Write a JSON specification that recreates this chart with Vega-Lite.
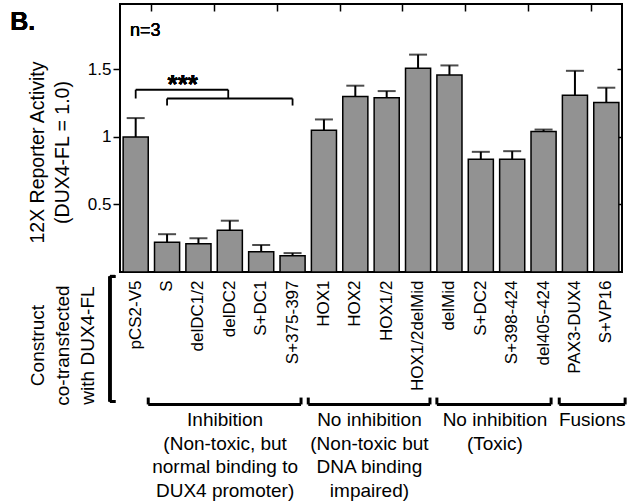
{
  "$schema": "https://vega.github.io/schema/vega-lite/v6.json",
  "width": 502,
  "height": 268,
  "autosize": "none",
  "padding": {"left": 120, "top": 4, "right": 7, "bottom": 232},
  "background": "white",
  "config": {
    "view": {"stroke": "black", "strokeWidth": 2},
    "font": "Liberation Sans",
    "axis": {"labelFont": "Liberation Sans", "titleFont": "Liberation Sans", "labelColor": "black", "titleColor": "black", "tickColor": "black", "tickWidth": 1.5, "titleFontWeight": "normal", "grid": false}
  },
  "resolve": {"scale": {"x": "independent"}, "axis": {"x": "independent", "y": "independent"}},
  "layer": [
    {
      "data": {"values": [
        {"construct": "pCS2-V5", "mean": 1.0, "upper": 1.14},
        {"construct": "S", "mean": 0.22, "upper": 0.28},
        {"construct": "delDC1/2", "mean": 0.21, "upper": 0.25},
        {"construct": "delDC2", "mean": 0.31, "upper": 0.38},
        {"construct": "S+DC1", "mean": 0.15, "upper": 0.20},
        {"construct": "S+375-397", "mean": 0.12, "upper": 0.14},
        {"construct": "HOX1", "mean": 1.05, "upper": 1.13},
        {"construct": "HOX2", "mean": 1.30, "upper": 1.38},
        {"construct": "HOX1/2", "mean": 1.29, "upper": 1.34},
        {"construct": "HOX1/2delMid", "mean": 1.51, "upper": 1.61},
        {"construct": "delMid", "mean": 1.46, "upper": 1.53},
        {"construct": "S+DC2", "mean": 0.835, "upper": 0.89},
        {"construct": "S+398-424", "mean": 0.835, "upper": 0.895},
        {"construct": "del405-424", "mean": 1.04, "upper": 1.055},
        {"construct": "PAX3-DUX4", "mean": 1.31, "upper": 1.49},
        {"construct": "S+VP16", "mean": 1.255, "upper": 1.365}
      ]},
      "encoding": {
        "x": {"field": "construct", "type": "nominal", "sort": null,
          "scale": {"paddingInner": 0.2, "paddingOuter": 0.1},
          "axis": {"orient": "bottom", "labelAngle": 270, "labelFontSize": 17, "labelPadding": 8, "ticks": false, "domain": false,
            "title": ["Construct", "co-transfected", "with DUX4-FL"], "titleFontSize": 19, "titleAngle": 270, "titleBaseline": "top", "titleAlign": "center", "titleLineHeight": 25, "titleX": -92, "titleY": 73}}
      },
      "layer": [
        {
          "mark": {"type": "bar", "fill": "#929292", "stroke": "black", "strokeWidth": 1.5},
          "encoding": {
            "y": {"field": "mean", "type": "quantitative", "scale": {"domain": [0, 1.985], "nice": false, "zero": true},
              "axis": {"orient": "left", "values": [0.5, 1, 1.5], "format": "~g", "tickSize": 7, "labelFontSize": 17, "labelPadding": 2, "domain": false,
                "title": ["12X Reporter Activity", "(DUX4-FL = 1.0)"], "titleFontSize": 19.5, "titleAngle": 270, "titleBaseline": "top", "titleAlign": "center", "titleLineHeight": 25, "titleX": -92, "titleY": 148}}
          }
        },
        {
          "mark": {"type": "rule", "color": "black", "strokeWidth": 2},
          "encoding": {"y": {"field": "mean", "type": "quantitative"}, "y2": {"field": "upper"}}
        },
        {
          "mark": {"type": "tick", "color": "black", "size": 18, "thickness": 2, "orient": "horizontal"},
          "encoding": {"y": {"field": "upper", "type": "quantitative"}}
        }
      ]
    },
    {
      "data": {"values": [
        {"label": "Inhibition\n(Non-toxic, but\nnormal binding to\nDUX4 promoter)", "start": 0.9, "end": 5.77, "mid": 3.35},
        {"label": "No inhibition\n(Non-toxic but\nDNA binding\nimpaired)", "start": 6.0, "end": 9.88, "mid": 7.95},
        {"label": "No inhibition\n(Toxic)", "start": 10.1, "end": 13.74, "mid": 11.95},
        {"label": "Fusions", "start": 14.0, "end": 16.1, "mid": 15.05}
      ]},
      "layer": [
        {
          "mark": {"type": "rule", "color": "black", "strokeWidth": 3},
          "encoding": {
            "x": {"field": "start", "type": "quantitative", "scale": {"domain": [0, 16], "nice": false, "zero": false},
              "axis": {"orient": "top", "values": [1,2,3,4,5,6,7,8,9,10,11,12,13,14,15], "labels": false, "domain": false, "tickSize": -7, "tickWidth": 1.5, "title": null}},
            "x2": {"field": "end"},
            "y": {"datum": -0.981, "type": "quantitative", "scale": {"domain": [0, 1.985], "nice": false},
              "axis": {"orient": "right", "values": [0.5, 1, 1.5], "labels": false, "domain": false, "tickSize": -5, "tickWidth": 1.5, "title": null}}
          }
        },
        {
          "mark": {"type": "rule", "color": "black", "strokeWidth": 3},
          "encoding": {"x": {"field": "start", "type": "quantitative"}, "y": {"datum": -0.981, "type": "quantitative"}, "y2": {"datum": -0.93}}
        },
        {
          "mark": {"type": "rule", "color": "black", "strokeWidth": 3},
          "encoding": {"x": {"field": "end", "type": "quantitative"}, "y": {"datum": -0.981, "type": "quantitative"}, "y2": {"datum": -0.93}}
        },
        {
          "mark": {"type": "text", "fontSize": 19, "lineBreak": "\n", "lineHeight": 23.5, "align": "center", "baseline": "top", "color": "black"},
          "encoding": {"x": {"field": "mid", "type": "quantitative"}, "y": {"datum": -1.03, "type": "quantitative"}, "text": {"field": "label"}}
        },
        {
          "mark": {"type": "rule", "color": "black", "strokeWidth": 3},
          "encoding": {"x": {"datum": -0.32, "type": "quantitative"}, "y": {"datum": -0.033, "type": "quantitative"}, "y2": {"datum": -0.959}}
        },
        {
          "mark": {"type": "rule", "color": "black", "strokeWidth": 3},
          "encoding": {"x": {"datum": -0.32, "type": "quantitative"}, "x2": {"datum": -0.15}, "y": {"datum": -0.033, "type": "quantitative"}}
        },
        {
          "mark": {"type": "rule", "color": "black", "strokeWidth": 3},
          "encoding": {"x": {"datum": -0.32, "type": "quantitative"}, "x2": {"datum": -0.15}, "y": {"datum": -0.959, "type": "quantitative"}}
        },
        {
          "data": {"values": [
            {"x": 0.5, "x2": 3.45, "y": 1.35, "y2": 1.35},
            {"x": 0.5, "x2": 0.5, "y": 1.35, "y2": 1.285},
            {"x": 3.45, "x2": 3.45, "y": 1.35, "y2": 1.285},
            {"x": 1.5, "x2": 5.5, "y": 1.285, "y2": 1.285},
            {"x": 1.5, "x2": 1.5, "y": 1.285, "y2": 1.233},
            {"x": 5.5, "x2": 5.5, "y": 1.285, "y2": 1.233}
          ]},
          "mark": {"type": "rule", "color": "black", "strokeWidth": 1.8},
          "encoding": {"x": {"field": "x", "type": "quantitative"}, "x2": {"field": "x2"}, "y": {"field": "y", "type": "quantitative"}, "y2": {"field": "y2"}}
        },
        {
          "mark": {"type": "text", "text": "***", "fontSize": 26, "fontWeight": "bold", "align": "center", "baseline": "alphabetic", "color": "black"},
          "encoding": {"x": {"datum": 2.0, "type": "quantitative"}, "y": {"datum": 1.325, "type": "quantitative"}}
        },
        {
          "mark": {"type": "text", "text": "n=3", "fontSize": 18, "align": "left", "baseline": "middle", "color": "black"},
          "encoding": {"x": {"datum": 0.32, "type": "quantitative"}, "y": {"datum": 1.785, "type": "quantitative"}}
        },
        {
          "mark": {"type": "text", "text": "B.", "fontSize": 25, "fontWeight": "bold", "align": "left", "baseline": "alphabetic", "color": "black"},
          "encoding": {"x": {"datum": -3.5, "type": "quantitative"}, "y": {"datum": 1.791, "type": "quantitative"}}
        }
      ]
    }
  ]
}
